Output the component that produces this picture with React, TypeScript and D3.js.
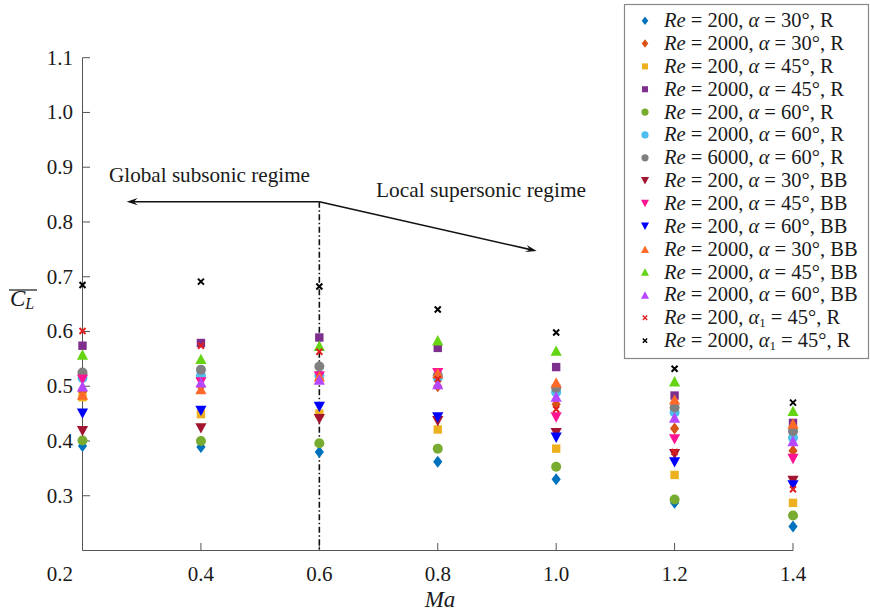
import React from "react";
import * as d3 from "d3";

const machNumbers = [0.2, 0.4, 0.6, 0.8, 1.0, 1.2, 1.4];
const xTickLabels = ["0.4", "0.6", "0.8", "1.0", "1.2", "1.4"];
const xTickValues = [0.4, 0.6, 0.8, 1.0, 1.2, 1.4];
const yTickValues = [0.3, 0.4, 0.5, 0.6, 0.7, 0.8, 0.9, 1.0, 1.1];
const cornerLabel = "0.2";

const seriesRe = ["200", "2000", "200", "2000", "200", "2000", "6000", "200", "200", "200", "2000", "2000", "2000", "200", "2000"];
const seriesAlpha = ["30", "30", "45", "45", "60", "60", "60", "30", "45", "60", "30", "45", "60", "45", "45"];
const seriesSub = [false, false, false, false, false, false, false, false, false, false, false, false, false, true, true];
const seriesType = ["R", "R", "R", "R", "R", "R", "R", "BB", "BB", "BB", "BB", "BB", "BB", "R", "R"];
const seriesMarker = ["diamond", "diamond", "square", "square", "circle", "circle", "circle", "down", "down", "down", "up", "up", "up", "x", "x"];
const seriesColor = ["#0072BD", "#D95319", "#EDB120", "#7E2F8E", "#77AC30", "#4DBEEE", "#808080", "#A2142F", "#FF1493", "#0000FF", "#FF6929", "#64D413", "#B746FF", "#E02020", "#000000"];

const s1 = [0.391, 0.389, 0.380, 0.362, 0.330, 0.287, 0.244];
const s2 = [0.490, 0.500, 0.515, 0.500, 0.467, 0.423, 0.382];
const s3 = [0.480, 0.449, 0.450, 0.421, 0.386, 0.338, 0.287];
const s4 = [0.574, 0.579, 0.589, 0.570, 0.535, 0.483, 0.433];
const s5 = [0.401, 0.400, 0.396, 0.386, 0.353, 0.293, 0.264];
const s6 = [0.515, 0.519, 0.520, 0.515, 0.489, 0.452, 0.406];
const s7 = [0.525, 0.530, 0.536, 0.520, 0.497, 0.461, 0.418];
const s8 = [0.418, 0.423, 0.440, 0.436, 0.414, 0.376, 0.327];
const s9 = [0.512, 0.507, 0.518, 0.524, 0.443, 0.403, 0.367];
const s10 = [0.450, 0.455, 0.462, 0.443, 0.406, 0.361, 0.319];
const s11 = [0.485, 0.495, 0.518, 0.524, 0.507, 0.476, 0.432];
const s12 = [0.558, 0.550, 0.574, 0.584, 0.565, 0.509, 0.455];
const s13 = [0.500, 0.507, 0.512, 0.504, 0.481, 0.443, 0.400];
const s14 = [0.601, 0.574, 0.563, 0.513, 0.458, 0.380, 0.312];
const s15 = [0.685, 0.691, 0.682, 0.640, 0.598, 0.532, 0.470];
const seriesValues = [s1, s2, s3, s4, s5, s6, s7, s8, s9, s10, s11, s12, s13, s14, s15];

const FONT = "'Liberation Serif', 'Times New Roman', 'DejaVu Serif', serif";

function Marker({ kind, color, x, y, k }: { kind: string; color: string; x: number; y: number; k: number }) {
  let el: React.ReactNode = null;
  if (kind === "diamond") {
    const w = 4.6 * k, h = 6 * k;
    el = <path d={`M${x},${y - h}L${x + w},${y}L${x},${y + h}L${x - w},${y}Z`} fill={color} />;
  } else if (kind === "square") {
    const s = 4.2 * k;
    el = <rect x={x - s} y={y - s} width={2 * s} height={2 * s} fill={color} />;
  } else if (kind === "circle") {
    el = <circle cx={x} cy={y} r={5 * k} fill={color} />;
  } else if (kind === "up") {
    const w = 5.6 * k, h = 5.2 * k;
    el = <path d={`M${x},${y - h}L${x + w},${y + h}L${x - w},${y + h}Z`} fill={color} />;
  } else if (kind === "down") {
    const w = 5.6 * k, h = 5.2 * k;
    el = <path d={`M${x},${y + h}L${x + w},${y - h}L${x - w},${y - h}Z`} fill={color} />;
  } else if (kind === "x") {
    const s = 3 * k;
    el = (
      <path
        d={`M${x - s},${y - s}L${x + s},${y + s}M${x - s},${y + s}L${x + s},${y - s}`}
        stroke={color}
        strokeWidth={2 * k}
        fill="none"
      />
    );
  }
  return <>{el}</>;
}

export default function App() {
  const width = 870;
  const height = 613;
  const x = d3.scaleLinear().domain([0.2, 1.4]).range([82.5, 793]);
  const y = d3.scaleLinear().domain([0.2, 1.1]).range([550.5, 57.7]);
  const axisColor = "#555";
  const textColor = "#1a1a1a";

  const legendX = 624.5;
  const legendY = 4.5;
  const legendW = 244;
  const legendH = 354;
  const rowH = 22.85;

  const splitX = x(0.6);
  const arrowY = 201.7;
  const leftTip = 126.7;
  const rightTip: [number, number] = [536.7, 251];

  const arrowHead = (tx: number, ty: number, fx: number, fy: number) => {
    const ang = Math.atan2(ty - fy, tx - fx);
    const len = 11, half = 3.6;
    const bx = tx - len * Math.cos(ang), by = ty - len * Math.sin(ang);
    const nx = -Math.sin(ang), ny = Math.cos(ang);
    const ix = tx - 0.65 * len * Math.cos(ang), iy = ty - 0.65 * len * Math.sin(ang);
    return `M${tx},${ty}L${bx + half * nx},${by + half * ny}L${ix},${iy}L${bx - half * nx},${by - half * ny}Z`;
  };

  return (
    <svg width={width} height={height} style={{ position: "absolute", left: 0, top: 0, background: "#fff" }} fontFamily={FONT}>
      <rect x={0} y={0} width={width} height={height} fill="#fff" />
      {/* axes */}
      <line x1={x(0.2)} x2={x(0.2)} y1={y(1.1)} y2={y(0.2)} stroke={axisColor} strokeWidth={1} />
      <line x1={x(0.2)} x2={x(1.4)} y1={y(0.2)} y2={y(0.2)} stroke={axisColor} strokeWidth={1} />
      {yTickValues.map((v) => (
        <g key={"yt" + v}>
          <line x1={x(0.2)} x2={x(0.2) + 7.5} y1={y(v)} y2={y(v)} stroke={axisColor} />
          <text x={73} y={y(v) + 7} textAnchor="end" fontSize={21} fill={textColor}>
            {v.toFixed(1)}
          </text>
        </g>
      ))}
      {xTickValues.map((v, i) => (
        <g key={"xt" + v}>
          <line x1={x(v)} x2={x(v)} y1={y(0.2)} y2={y(0.2) - 7.5} stroke={axisColor} />
          <text x={x(v)} y={581} textAnchor="middle" fontSize={21} fill={textColor}>
            {xTickLabels[i]}
          </text>
        </g>
      ))}
      <text x={73} y={581} textAnchor="end" fontSize={21} fill={textColor}>
        {cornerLabel}
      </text>
      {/* axis titles */}
      <text x={440} y={607} textAnchor="middle" fontSize={23} fontStyle="italic" fill={textColor}>
        Ma
      </text>
      <g fill={textColor}>
        <text x={10} y={306} fontSize={23} fontStyle="italic">
          C
          <tspan fontSize={16} dy={3}>L</tspan>
        </text>
        <line x1={9} x2={37} y1={290} y2={290} stroke={textColor} strokeWidth={1.2} />
      </g>
      {/* annotations */}
      <line x1={splitX} x2={splitX} y1={arrowY} y2={y(0.2)} stroke="#111" strokeWidth={1.6} strokeDasharray="6,2.5,1.5,2.5" />
      <line x1={splitX} x2={leftTip + 6} y1={arrowY} y2={arrowY} stroke="#111" strokeWidth={1.6} />
      <path d={arrowHead(leftTip, arrowY, splitX, arrowY)} fill="#111" />
      <line x1={splitX} y1={arrowY} x2={rightTip[0] - 5} y2={rightTip[1] - 1.1} stroke="#111" strokeWidth={1.6} />
      <path d={arrowHead(rightTip[0], rightTip[1], splitX, arrowY)} fill="#111" />
      <text x={109} y={182} fontSize={21} textLength={201} lengthAdjust="spacingAndGlyphs" fill={textColor}>Global subsonic regime</text>
      <text x={376} y={197} fontSize={21} textLength={210} lengthAdjust="spacingAndGlyphs" fill={textColor}>Local supersonic regime</text>
      {/* data */}
      {seriesValues.map((vals, si) => (
        <g key={"s" + si}>
          {vals.map((v, i) => (
            <Marker key={i} kind={seriesMarker[si]} color={seriesColor[si]} x={x(machNumbers[i])} y={y(v)} k={1} />
          ))}
        </g>
      ))}
      {/* legend */}
      <rect x={legendX} y={legendY} width={legendW} height={legendH} fill="#fff" stroke="#888" strokeWidth={1.2} />
      {seriesRe.map((re, i) => {
        const cy = 20.7 + i * rowH;
        return (
          <g key={"lg" + i}>
            <Marker kind={seriesMarker[i]} color={seriesColor[i]} x={645} y={cy} k={0.72} />
            <text x={664} y={cy + 6.5} fontSize={20.5} fill={textColor}>
              <tspan fontStyle="italic">Re</tspan>
              {` = ${re}, `}
              <tspan fontStyle="italic">α</tspan>
              {seriesSub[i] ? (
                <>
                  <tspan fontSize={13} dy={3}>1</tspan>
                  <tspan dy={-3}>{` = ${seriesAlpha[i]}°, ${seriesType[i]}`}</tspan>
                </>
              ) : (
                ` = ${seriesAlpha[i]}°, ${seriesType[i]}`
              )}
            </text>
          </g>
        );
      })}
    </svg>
  );
}
